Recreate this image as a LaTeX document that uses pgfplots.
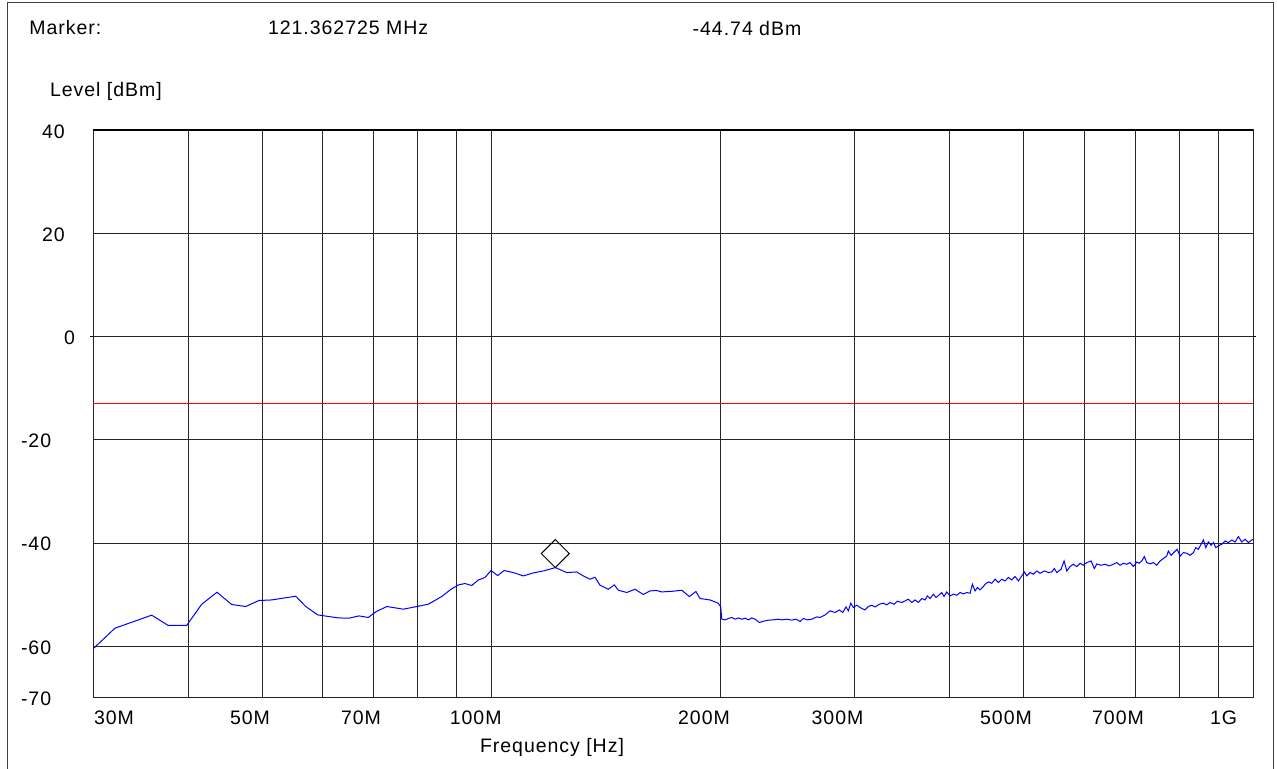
\documentclass[border=0pt]{standalone}
\usepackage{pgfplots}
\pgfplotsset{compat=1.18}
\usepackage{fontspec}
\setmainfont{Liberation Sans}[LetterSpace=5.0]
\definecolor{limred}{RGB}{255,0,0}
\definecolor{trace}{RGB}{0,0,255}
\begin{document}
\fontsize{19.5bp}{23bp}\selectfont
\begin{tikzpicture}[x=1bp,y=1bp]
\useasboundingbox (0,0) rectangle (1277,769);
\draw[line width=1bp, black!75] (7,0) -- (7,766) -- (1273,766) -- (1273,0);
\begin{axis}[
  at={(93bp,71bp)}, anchor=south west,
  scale only axis, width=1160bp, height=568bp,
  xmode=log, xmin=30, xmax=1000, ymin=-70, ymax=40,
  xtick={40,50,60,70,80,90,100,200,300,400,500,600,700,800,900},
  xticklabels={}, ytick={-60,-40,-20,0,20,40}, yticklabels={},
  grid=major, major grid style={black!85, line width=0.9bp},
  major tick length=0pt, minor tick length=0pt,
  axis line style={line width=1bp, black!85},
  extra y ticks={0}, extra y tick labels={},
  extra y tick style={grid=none, major tick length=3bp, tick align=outside, tick style={black, line width=1bp}},
]
\addplot[draw=limred, color=limred, line width=1.4bp] coordinates {(30,-13) (1000,-13)};
\addplot[draw=trace, color=trace, line width=1bp] coordinates {
(30,-60.5) (32.06,-56.48) (35.82,-53.96) (37.67,-55.96) (39.82,-55.96) (41.67,-51.84) (43.64,-49.52) (45.63,-51.90) (47.60,-52.28) (49.55,-51.12) (51.50,-51.01) (55.37,-50.29) (57.06,-52.28) (59.17,-53.91) (62.97,-54.49) (65.04,-54.55) (67.04,-54.10) (68.95,-54.41) (70.51,-53.33) (72.90,-52.28) (76.65,-52.80) (79.40,-52.36) (82.66,-51.84) (86.08,-50.35) (88.54,-48.94) (90.51,-48.10) (92.37,-47.83) (94.26,-48.22) (96.16,-47.14) (98.11,-46.67) (99.91,-45.32) (101.96,-46.29) (103.93,-45.32) (106.89,-45.71) (110.16,-46.36) (113.56,-45.78) (117.63,-45.32) (121.36,-44.74) (125.63,-45.71) (129.46,-45.59) (132.08,-46.36) (134.78,-47.00) (136.81,-46.62) (138.91,-48.16) (142.43,-48.94) (145.05,-48.10) (146.80,-49.13) (150.60,-49.57) (154.42,-48.94) (158.35,-49.96) (161.59,-49.26) (164.89,-49.19) (167.38,-49.46) (173.38,-49.32) (177.83,-49.13) (181.97,-50.35) (185.66,-49.38) (187.94,-50.74) (193.69,-51.01) (198.61,-51.64) (200.08,-52.36)
(200.70,-54.74) (202.71,-54.87) (204.75,-54.60) (206.86,-54.41) (208.93,-54.74) (211.03,-54.49) (213.21,-54.74) (215.35,-54.55) (217.51,-54.87) (219.76,-54.49) (221.96,-54.74) (224.86,-55.38) (227.60,-55.13) (231.06,-54.93) (234.58,-54.87) (238.15,-54.74) (240.61,-54.87) (244.28,-54.74) (248.00,-54.93) (251.24,-54.74) (254.30,-55.18) (256.85,-54.60) (259.97,-54.87) (263.45,-54.74) (267.46,-54.29) (270.14,-54.41) (274.26,-53.91) (278.44,-53.13) (282.68,-53.44) (286.38,-52.94) (289.34,-53.44) (292.24,-52.36) (294.28,-53.13) (296.42,-51.64) (298.76,-52.48) (301.84,-52.03) (306.44,-52.67) (309.52,-52.94) (312.62,-52.28) (315.85,-52.03) (319.02,-52.36) (323.19,-51.84) (327.12,-51.64) (330.51,-51.97) (333.82,-51.51) (337.88,-51.84) (341.27,-51.26) (345.84,-51.51) (349.31,-51.20) (352.81,-50.87) (356.46,-51.51) (360.03,-51.01) (363.64,-51.51) (367.40,-50.73) (371.08,-51.01) (373.67,-50.23) (376.73,-50.73) (380.51,-49.90) (383.62,-50.54) (386.77,-50.10) (390.29,-49.57) (393.01,-50.35) (396.23,-49.46) (400.21,-50.23) (404.22,-49.90) (408.39,-50.10) (412.49,-49.57) (416.63,-49.85) (420.92,-49.57) (425.14,-49.71) (428.11,-47.97) (431.62,-49.26) (434.63,-48.61) (438.19,-49.07) (442.58,-48.41)
(444.87,-47.97) (449.33,-47.52) (453.96,-47.78) (458.52,-47.00) (463.12,-47.64) (467.90,-47.00) (472.59,-47.33) (477.33,-46.67) (482.26,-47.14) (487.10,-46.48) (491.99,-47.33) (496.01,-46.56) (500.98,-45.59) (504.63,-46.36) (509.70,-45.71) (514.81,-46.03) (520.12,-45.40) (525.35,-45.84) (532.21,-45.40) (538.69,-45.71) (544.25,-45.59) (548.55,-44.93) (552.54,-45.71) (559.77,-45.07) (564.87,-43.46) (569.49,-45.40) (575.20,-44.55) (580.98,-44.10) (586.97,-44.55) (592.86,-43.91) (598.82,-44.29) (605.00,-43.77) (612.92,-43.46) (619.06,-44.93) (623.57,-44.04) (631.73,-44.29) (639.40,-44.10) (647.19,-44.43) (655.65,-44.10) (662.43,-43.77) (669.07,-44.29) (675.78,-43.91) (682.75,-44.10) (689.61,-43.77) (696.52,-44.55) (703.71,-43.66) (708.62,-43.91) (714.43,-43.46) (720.06,-42.61) (725.30,-43.77) (732.59,-44.04) (739.93,-43.77) (747.57,-44.29) (755.08,-43.46) (762.65,-43.00) (770.53,-42.50) (774.26,-41.53) (780.62,-42.36) (788.44,-41.72) (794.90,-41.20) (802.14,-42.50) (810.18,-41.84) (818.56,-41.97) (826.77,-42.36) (835.05,-41.84) (841.13,-40.87) (847.78,-41.20) (854.72,-40.23) (860.68,-39.40) (866.94,-40.87) (873.77,-39.79) (880.94,-40.43) (887.09,-39.90) (893.54,-40.87) (900.58,-40.56) (909.89,-40.23) (919.01,-39.59) (928.22,-39.90) (937.82,-39.40) (947.22,-39.79) (956.71,-38.74) (966.61,-39.79) (976.30,-39.26) (986.08,-39.90) (996.28,-39.40) (1000,-39.26)
};
\addplot[only marks, mark=square, mark size=9.9bp, mark options={yshift=14bp, rotate=45, fill=white, draw=black, line width=1bp}] coordinates {(121.36,-44.74)};
\draw[line width=2bp, black] (rel axis cs:0,1) -- (rel axis cs:1,1);
\end{axis}
\tikzset{lbl/.style={inner sep=0pt, outer sep=0pt}}
\node[lbl, anchor=base west] at (29.3,734) {Marker:};
\node[lbl, anchor=base west] at (268,734) {121.362725 MHz};
\node[lbl, anchor=base west] at (692.7,733.5) {-44.74 dBm};
\node[lbl, anchor=base west] at (50,672.3) {Level [dBm]};
\node[lbl, anchor=base west] at (42,630.7) {40};
\node[lbl, anchor=base west] at (42,527) {20};
\node[lbl, anchor=base west] at (64,424) {0};
\node[lbl, anchor=base west] at (21,321) {-20};
\node[lbl, anchor=base west] at (21,218) {-40};
\node[lbl, anchor=base west] at (21,114) {-60};
\node[lbl, anchor=base west] at (21,63) {-70};
\node[lbl, anchor=base] at (114,44) {30M};
\node[lbl, anchor=base] at (250,44) {50M};
\node[lbl, anchor=base] at (361,44) {70M};
\node[lbl, anchor=base] at (475.7,44) {100M};
\node[lbl, anchor=base] at (704,44) {200M};
\node[lbl, anchor=base] at (837.5,44) {300M};
\node[lbl, anchor=base] at (1006,44) {500M};
\node[lbl, anchor=base] at (1118,44) {700M};
\node[lbl, anchor=base] at (1223.5,44) {1G};
\node[lbl, anchor=base] at (552,16) {Frequency [Hz]};
\end{tikzpicture}
\end{document}
